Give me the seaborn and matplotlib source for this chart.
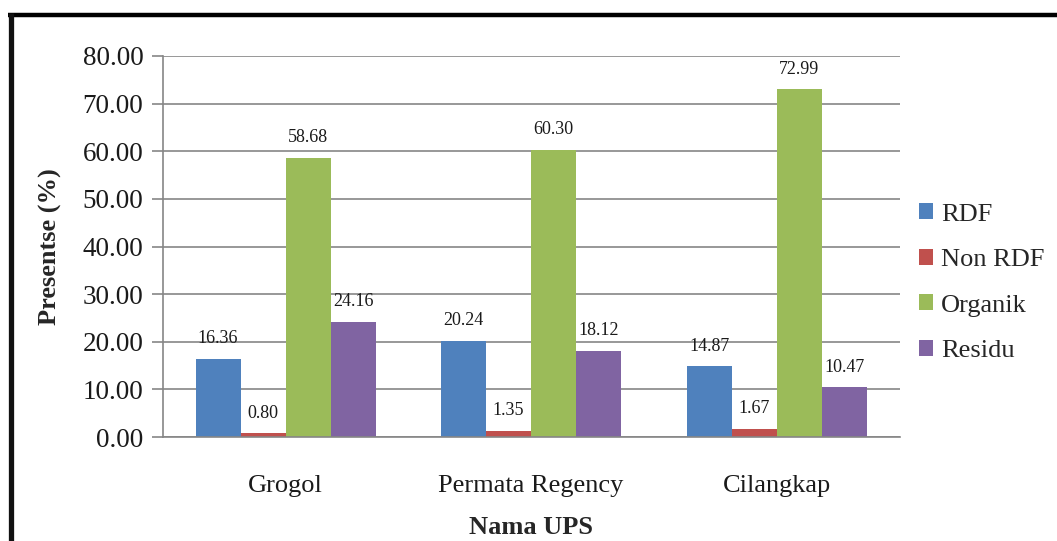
import matplotlib
matplotlib.use("Agg")
import matplotlib.pyplot as plt
from matplotlib.lines import Line2D
from matplotlib.patches import Patch
import seaborn as sns
import pandas as pd

# Composition of waste per UPS (percent)
locations = ["Grogol", "Permata Regency", "Cilangkap"]
categories = ["RDF", "Non RDF", "Organik", "Residu"]
rdf = [16.36, 20.24, 14.87]
non_rdf = [0.80, 1.35, 1.67]
organik = [58.68, 60.30, 72.99]
residu = [24.16, 18.12, 10.47]
y_ticks = [0, 10, 20, 30, 40, 50, 60, 70, 80]

colors = ["#4F81BD", "#C0504D", "#9BBB59", "#8064A2"]

rows = []
for cat, vals in zip(categories, [rdf, non_rdf, organik, residu]):
    for loc, v in zip(locations, vals):
        rows.append({"Nama UPS": loc, "Kategori": cat, "Persen": v})
df = pd.DataFrame(rows)

sns.set_theme(style="white")
plt.rcParams["font.family"] = ["Liberation Serif", "DejaVu Serif"]

fig = plt.figure(figsize=(10.57, 5.41), dpi=100)
ax = fig.add_axes([0.154, 0.1922, 0.697, 0.7043])

sns.barplot(data=df, x="Nama UPS", y="Persen", hue="Kategori",
            order=locations, hue_order=categories, palette=colors,
            width=0.733, gap=0, saturation=1, ax=ax, legend=False,
            errorbar=None, edgecolor="none", linewidth=0)

ax.set_xlim(-0.5, 2.5)
ax.set_ylim(0, 80)
ax.set_yticks(y_ticks)
ax.set_yticklabels([f"{t:.2f}" for t in y_ticks], fontsize=19.5, color="#1a1a1a")
ax.tick_params(axis="y", which="major", direction="out", length=8, width=1.2,
               color="#868686", pad=6, left=True)
ax.tick_params(axis="x", length=0, pad=27, labelsize=19, labelcolor="#1a1a1a")
ax.yaxis.grid(True, color="#868686", linewidth=1.2)
ax.set_axisbelow(True)

for side in ["top", "right"]:
    ax.spines[side].set_visible(False)
ax.spines["left"].set_color("#868686")
ax.spines["left"].set_linewidth(1.2)
ax.spines["bottom"].set_color("#868686")
ax.spines["bottom"].set_linewidth(1.2)

# Value labels above each bar
for container in ax.containers:
    for bar in container:
        h = bar.get_height()
        ax.annotate(f"{h:.2f}", (bar.get_x() + bar.get_width() / 2, h),
                    xytext=(0, 14.5), textcoords="offset points",
                    ha="center", va="center", fontsize=13, color="#1a1a1a")

ax.set_xlabel("Nama UPS", fontsize=19, fontweight="bold", labelpad=14)
ax.set_ylabel("Presentse (%)", fontsize=19, fontweight="bold", labelpad=15)

handles = [Patch(facecolor=c, edgecolor="none") for c in colors]
fig.legend(handles, categories, loc="center left", bbox_to_anchor=(0.869, 0.4775),
           frameon=False, fontsize=19, handlelength=0.55, handleheight=0.55,
           handletextpad=0.3, labelspacing=0.88, borderaxespad=0, borderpad=0)

# Heavy black frame along the top and left edges
fig.add_artist(Line2D([8 / 1057, 1.0], [1 - 14.5 / 541, 1 - 14.5 / 541],
                      transform=fig.transFigure, color="black", linewidth=3.2,
                      solid_capstyle="butt"))
fig.add_artist(Line2D([10.5 / 1057, 10.5 / 1057], [0.0, 1 - 12.5 / 541],
                      transform=fig.transFigure, color="#111111", linewidth=3.8,
                      solid_capstyle="butt"))

fig.savefig("out.png", dpi=100)
